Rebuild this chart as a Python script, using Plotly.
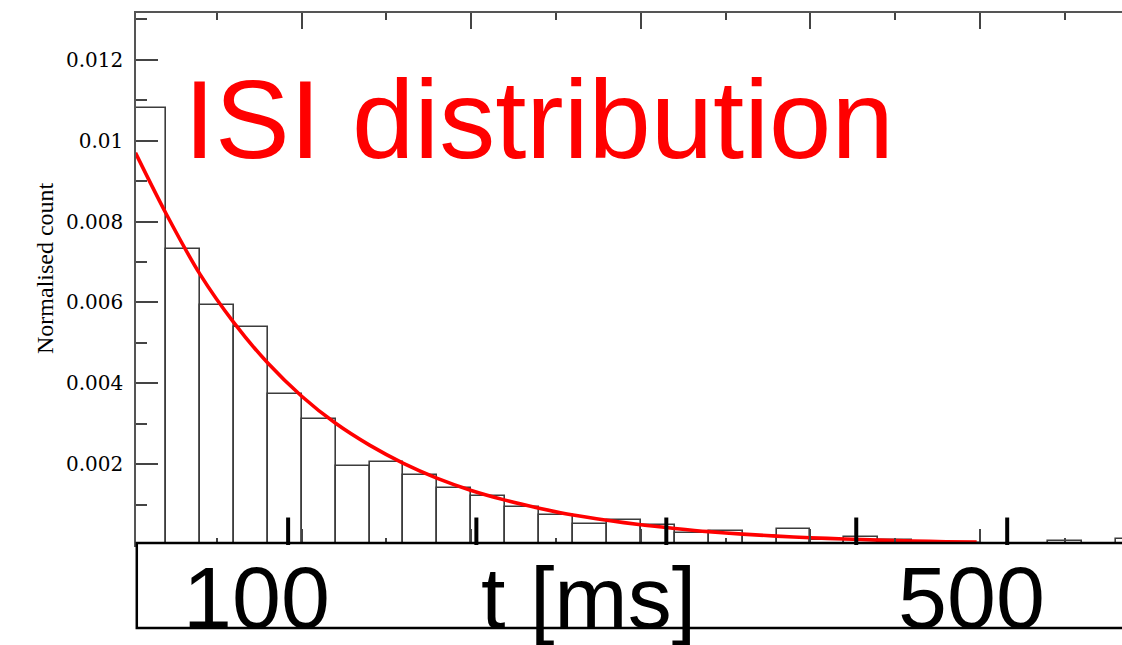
import plotly.graph_objects as go

# Inter-spike interval histogram: 20 ms bins, normalised counts
bin_left_ms = [0, 20, 40, 60, 80, 100, 120, 140, 160, 180, 200, 220, 240, 260, 280,
               300, 320, 340, 360, 380, 400, 420, 440, 460, 480, 500, 520, 540, 560, 580]
norm_count = [0.0108, 0.00732, 0.00594, 0.00539, 0.00373, 0.00312, 0.00196, 0.00206,
              0.00174, 0.00141, 0.00122, 0.00093, 0.00075, 0.00052, 0.00062, 0.00050,
              0.00029, 0.00035, 0.00023, 0.00039, 0.00013, 0.00020, 0.00012, 0.00005,
              0.00004, 0.0, 0.0, 0.00010, 0.0, 0.00015]
bin_width_ms = 20

# Exponential fit, sampled along t
fit_t_ms = [2, 20, 40, 60, 80, 100, 120, 140, 160, 180, 200, 220, 240, 260, 280, 300,
            320, 340, 360, 380, 400, 420, 440, 460, 480, 498]
fit_value = [0.0097, 0.0082, 0.0067, 0.0055, 0.0045, 0.00368, 0.00301, 0.00247, 0.00202,
             0.00165, 0.00135, 0.00111, 0.00091, 0.00074, 0.00061, 0.0005, 0.00041,
             0.00033, 0.00027, 0.00022, 0.00018, 0.00015, 0.00012, 0.0001, 0.00008,
             0.00007]

y_tick_vals = [0.002, 0.004, 0.006, 0.008, 0.010, 0.012]
y_tick_text = ["0.002", "0.004", "0.006", "0.008", "0.01", "0.012"]

# marker ticks on the time strip
strip_tick_ms = [92, 203, 315, 427, 516]

title_text = "ISI distribution"
y_title = "Normalised count"
strip_labels = ["100", "t [ms]", "500"]
strip_label_pos = [0.1227, 0.4594, 0.8469]

W, H = 1122, 645
ML, MT, MB = 136, 13, 100
plot_h = H - MT - MB

fig = go.Figure()

fig.add_trace(go.Bar(
    x=[b + bin_width_ms / 2 for b in bin_left_ms],
    y=norm_count,
    width=bin_width_ms,
    marker=dict(color="white", line=dict(color="#3c3c3c", width=1.6)),
    showlegend=False,
))

fig.add_trace(go.Scatter(
    x=fit_t_ms, y=fit_value, mode="lines",
    line=dict(color="#ff0000", width=3.6, shape="spline", smoothing=0.8),
    showlegend=False,
))

shapes = []
# white strip with the time labels under the axis
box_top = 2 / plot_h
box_bot = -(628 - (H - MB)) / plot_h
shapes.append(dict(type="rect", xref="paper", yref="paper",
                   x0=0.0008, x1=1.02, y0=box_bot, y1=box_top,
                   fillcolor="white", line=dict(color="black", width=2.5),
                   layer="above"))
for t in strip_tick_ms:
    shapes.append(dict(type="line", xref="x", yref="y",
                       x0=t, x1=t, y0=0, y1=0.00068,
                       line=dict(color="black", width=4), layer="above"))

annotations = [
    dict(text=title_text, xref="paper", yref="paper", x=0.047, y=(H - MB - 55) / plot_h,
         xanchor="left", yanchor="top", showarrow=False,
         font=dict(family="Liberation Sans, Arial", size=112, color="#ff0000")),
    dict(text=y_title, xref="paper", yref="paper", x=-(136 - 45) / (W - ML), y=(H - MB - 268) / plot_h,
         xanchor="center", yanchor="middle", textangle=-90, showarrow=False,
         font=dict(family="Liberation Serif, Times New Roman", size=24, color="black")),
]
for lab, xp in zip(strip_labels, strip_label_pos):
    annotations.append(dict(text=lab, xref="paper", yref="paper", x=xp,
                            y=-(546 - (H - MB)) / plot_h,
                            xanchor="center", yanchor="top", showarrow=False,
                            font=dict(family="Liberation Sans, Arial", size=88, color="black")))

fig.update_layout(
    width=W, height=H,
    margin=dict(l=ML, r=0, t=MT, b=MB, pad=0),
    paper_bgcolor="white", plot_bgcolor="white",
    bargap=0,
    shapes=shapes,
    annotations=annotations,
    xaxis=dict(range=[2.3, 583.7], showline=True, linecolor="#555", linewidth=1.5,
               mirror="ticks", ticks="inside", ticklen=16, tickwidth=1.5, tickcolor="#444",
               tick0=0, dtick=100, showticklabels=False, showgrid=False, zeroline=False,
               minor=dict(ticks="inside", ticklen=7, tickwidth=1.5, tickcolor="#444",
                          tick0=0, dtick=50, showgrid=False)),
    yaxis=dict(range=[0, 0.01316], showline=True, linecolor="#555", linewidth=1.5,
               mirror=False, ticks="inside", ticklen=22, tickwidth=1.5, tickcolor="#444",
               tickmode="array", tickvals=y_tick_vals, ticktext=y_tick_text,
               ticklabelstandoff=7,
               tickfont=dict(family="DejaVu Serif", size=20, color="black"),
               showgrid=False, zeroline=False,
               minor=dict(ticks="inside", ticklen=11, tickwidth=1.5, tickcolor="#444",
                          tick0=0, dtick=0.001, showgrid=False)),
)

fig.write_html("out.html")
